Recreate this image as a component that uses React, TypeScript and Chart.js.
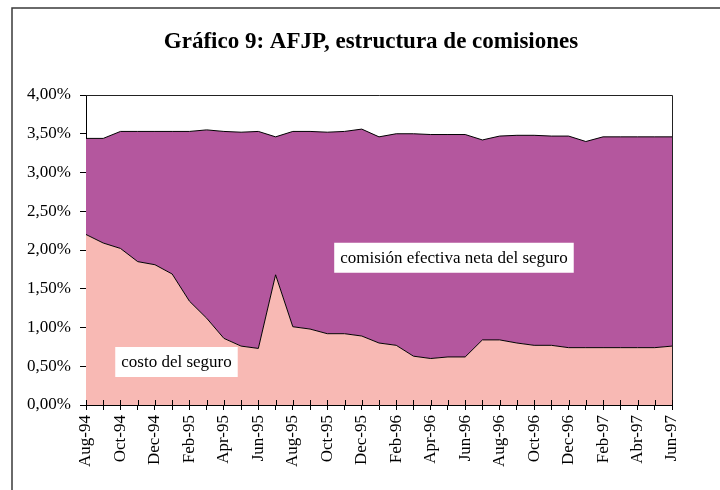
import React, { useEffect, useRef } from "react";
import { Chart, registerables } from "chart.js";

Chart.register(...registerables);

const months = [
  "Aug-94", "Sep-94", "Oct-94", "Nov-94", "Dec-94", "Jan-95", "Feb-95", "Mar-95",
  "Apr-95", "May-95", "Jun-95", "Jul-95", "Aug-95", "Sep-95", "Oct-95", "Nov-95",
  "Dec-95", "Jan-96", "Feb-96", "Mar-96", "Apr-96", "May-96", "Jun-96", "Jul-96",
  "Aug-96", "Sep-96", "Oct-96", "Nov-96", "Dec-96", "Jan-97", "Feb-97", "Mar-97",
  "Abr-97", "May-97", "Jun-97",
];

// costo del seguro (% )
const costoSeguro = [
  2.20, 2.09, 2.02, 1.85, 1.81, 1.69, 1.34, 1.12, 0.86, 0.76, 0.73, 1.68,
  1.01, 0.98, 0.92, 0.92, 0.89, 0.80, 0.77, 0.63, 0.60, 0.62, 0.62, 0.84,
  0.84, 0.80, 0.77, 0.77, 0.74, 0.74, 0.74, 0.74, 0.74, 0.74, 0.76,
];

// comisión efectiva neta del seguro (%)
const comisionNeta = [
  1.24, 1.35, 1.51, 1.68, 1.72, 1.84, 2.19, 2.43, 2.67, 2.76, 2.80, 1.78,
  2.52, 2.55, 2.60, 2.61, 2.67, 2.66, 2.73, 2.87, 2.89, 2.87, 2.87, 2.58,
  2.63, 2.68, 2.71, 2.70, 2.73, 2.66, 2.72, 2.72, 2.72, 2.72, 2.70,
];

const yTicks = { min: 0, max: 4, step: 0.5 };

const TITLE = "Gráfico 9: AFJP, estructura de comisiones";
const SERIF = "'Liberation Serif', 'Times New Roman', serif";

const decorPlugin = {
  id: "decor",
  beforeDraw(chart: any) {
    const { ctx, width, height } = chart;
    ctx.save();
    ctx.fillStyle = "#ffffff";
    ctx.fillRect(0, 0, width, height);
    ctx.strokeStyle = "#3a3a3a";
    ctx.lineWidth = 1.5;
    ctx.beginPath();
    ctx.moveTo(12, height);
    ctx.lineTo(12, 8);
    ctx.lineTo(width, 8);
    ctx.stroke();
    ctx.fillStyle = "#000";
    ctx.font = `bold 23px ${SERIF}`;
    ctx.textAlign = "center";
    ctx.textBaseline = "middle";
    ctx.fillText(TITLE, 371, 42);
    ctx.restore();
  },
  afterDatasetsDraw(chart: any) {
    const { ctx, chartArea, scales } = chart;
    const x = scales.x;
    const y = scales.y;
    ctx.save();
    // plot frame top/right
    ctx.strokeStyle = "#222";
    ctx.lineWidth = 1;
    ctx.beginPath();
    ctx.moveTo(chartArea.left, chartArea.top + 0.5);
    ctx.lineTo(chartArea.right + 0.5, chartArea.top + 0.5);
    ctx.lineTo(chartArea.right + 0.5, chartArea.bottom);
    ctx.stroke();
    // inner half of x tick marks
    ctx.strokeStyle = "#000";
    ctx.beginPath();
    for (let i = 0; i < months.length; i++) {
      const px = Math.round(x.getPixelForValue(i)) + 0.5;
      ctx.moveTo(px, chartArea.bottom - 5);
      ctx.lineTo(px, chartArea.bottom);
    }
    ctx.stroke();
    // label boxes
    const boxes = [
      { text: "comisión efectiva neta del seguro", xi: 21.35, yv: 1.9 },
      { text: "costo del seguro", xi: 5.25, yv: 0.555 },
    ];
    ctx.font = `17px ${SERIF}`;
    ctx.textAlign = "center";
    ctx.textBaseline = "middle";
    for (const b of boxes) {
      const cx = x.getPixelForValue(b.xi);
      const cy = y.getPixelForValue(b.yv);
      const w = ctx.measureText(b.text).width + 12;
      const h = 30;
      ctx.fillStyle = "#fff";
      ctx.fillRect(cx - w / 2, cy - h / 2, w, h);
      ctx.fillStyle = "#000";
      ctx.fillText(b.text, cx, cy + 1);
    }
    ctx.restore();
  },
};

export default function App() {
  const ref = useRef<HTMLCanvasElement | null>(null);
  useEffect(() => {
    if (!ref.current) return;
    const chart = new Chart(ref.current, {
      type: "line",
      data: {
        labels: months,
        datasets: [
          {
            label: "costo del seguro",
            data: costoSeguro,
            backgroundColor: "#F8B9B4",
            borderColor: "#000",
            borderWidth: 1,
            fill: "origin",
            pointRadius: 0,
            tension: 0,
          },
          {
            label: "comisión efectiva neta del seguro",
            data: comisionNeta,
            backgroundColor: "#B4579E",
            borderColor: "#000",
            borderWidth: 1,
            fill: "-1",
            pointRadius: 0,
            tension: 0,
          },
        ],
      },
      options: {
        responsive: false,
        animation: false,
        layout: { padding: { top: 95, right: 48, left: 0, bottom: 0 } },
        plugins: {
          legend: { display: false },
          tooltip: { enabled: false },
          title: { display: false },
        },
        scales: {
          x: {
            offset: false,
            grid: {
              drawOnChartArea: false,
              drawTicks: true,
              tickLength: 5,
              color: "#000",
            },
            border: { display: true, color: "#000", width: 1 },
            ticks: {
              autoSkip: false,
              maxRotation: 90,
              minRotation: 90,
              padding: 5,
              color: "#000",
              font: { family: SERIF, size: 17 },
              callback: (_v: any, i: number) => (i % 2 === 0 ? months[i] : ""),
            },
            afterFit: (s: any) => {
              s.height = 85;
            },
          },
          y: {
            stacked: true,
            min: yTicks.min,
            max: yTicks.max,
            grid: {
              drawOnChartArea: false,
              drawTicks: true,
              tickLength: 6,
              color: "#000",
            },
            border: { display: true, color: "#000", width: 1 },
            ticks: {
              stepSize: yTicks.step,
              padding: 9,
              color: "#000",
              font: { family: SERIF, size: 17 },
              callback: (v: any) => Number(v).toFixed(2).replace(".", ",") + "%",
            },
            afterFit: (s: any) => {
              s.width = 86;
            },
          },
        },
      },
      plugins: [decorPlugin],
    });
    return () => chart.destroy();
  }, []);
  return (
    <div style={{ position: "absolute", left: 0, top: 0, width: 720, height: 490 }}>
      <canvas ref={ref} width={720} height={490} style={{ display: "block" }} />
    </div>
  );
}
